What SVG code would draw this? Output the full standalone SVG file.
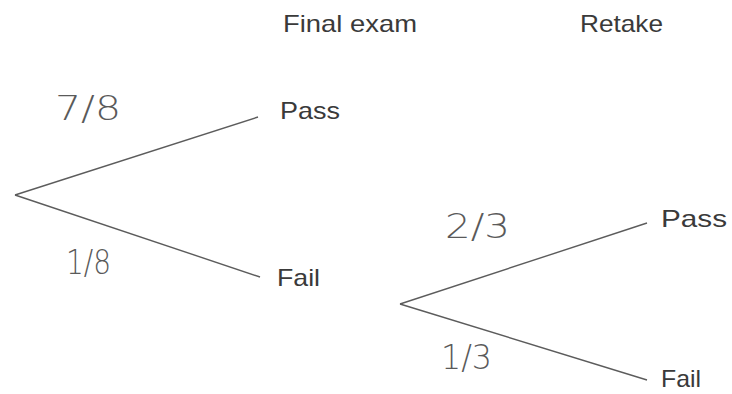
<svg xmlns="http://www.w3.org/2000/svg" width="732" height="394" viewBox="0 0 732 394">
<style>
.lbl{font-family:"Liberation Sans",Arial,sans-serif;font-size:24px;fill:#3a3a3a}
.hw{font-family:"DejaVu Sans","Liberation Sans",sans-serif;font-size:34px;font-weight:200;fill:#5a5a5a}
.br{stroke:#5c5c5c;stroke-width:1.4;fill:none}
</style>
<rect width="732" height="394" fill="#ffffff"/>
<g id="headers">
<text class="lbl" x="283" y="32" textLength="134" lengthAdjust="spacingAndGlyphs">Final exam</text>
<text class="lbl" x="580" y="32" textLength="83" lengthAdjust="spacingAndGlyphs">Retake</text>
</g>
<g id="connectors">
<line class="br" x1="15" y1="195" x2="258" y2="117"/>
<line class="br" x1="15" y1="195" x2="260" y2="277"/>
<line class="br" x1="400" y1="304" x2="647" y2="223"/>
<line class="br" x1="400" y1="304" x2="647" y2="380"/>
</g>
<g id="node-pass1"><text class="lbl" x="280" y="119" textLength="60" lengthAdjust="spacingAndGlyphs">Pass</text></g>
<g id="node-fail1"><text class="lbl" x="277" y="286" textLength="43" lengthAdjust="spacingAndGlyphs">Fail</text></g>
<g id="node-pass2"><text class="lbl" x="661" y="227" textLength="66" lengthAdjust="spacingAndGlyphs">Pass</text></g>
<g id="node-fail2"><text class="lbl" x="661" y="387" textLength="40" lengthAdjust="spacingAndGlyphs">Fail</text></g>
<g id="probs">
<text class="hw" x="55" y="120" textLength="66" lengthAdjust="spacingAndGlyphs">7/8</text>
<text class="hw" x="66" y="274" textLength="45" lengthAdjust="spacingAndGlyphs">1/8</text>
<text class="hw" x="445" y="238" textLength="65" lengthAdjust="spacingAndGlyphs">2/3</text>
<text class="hw" x="441" y="369" textLength="51" lengthAdjust="spacingAndGlyphs">1/3</text>
</g>
</svg>
